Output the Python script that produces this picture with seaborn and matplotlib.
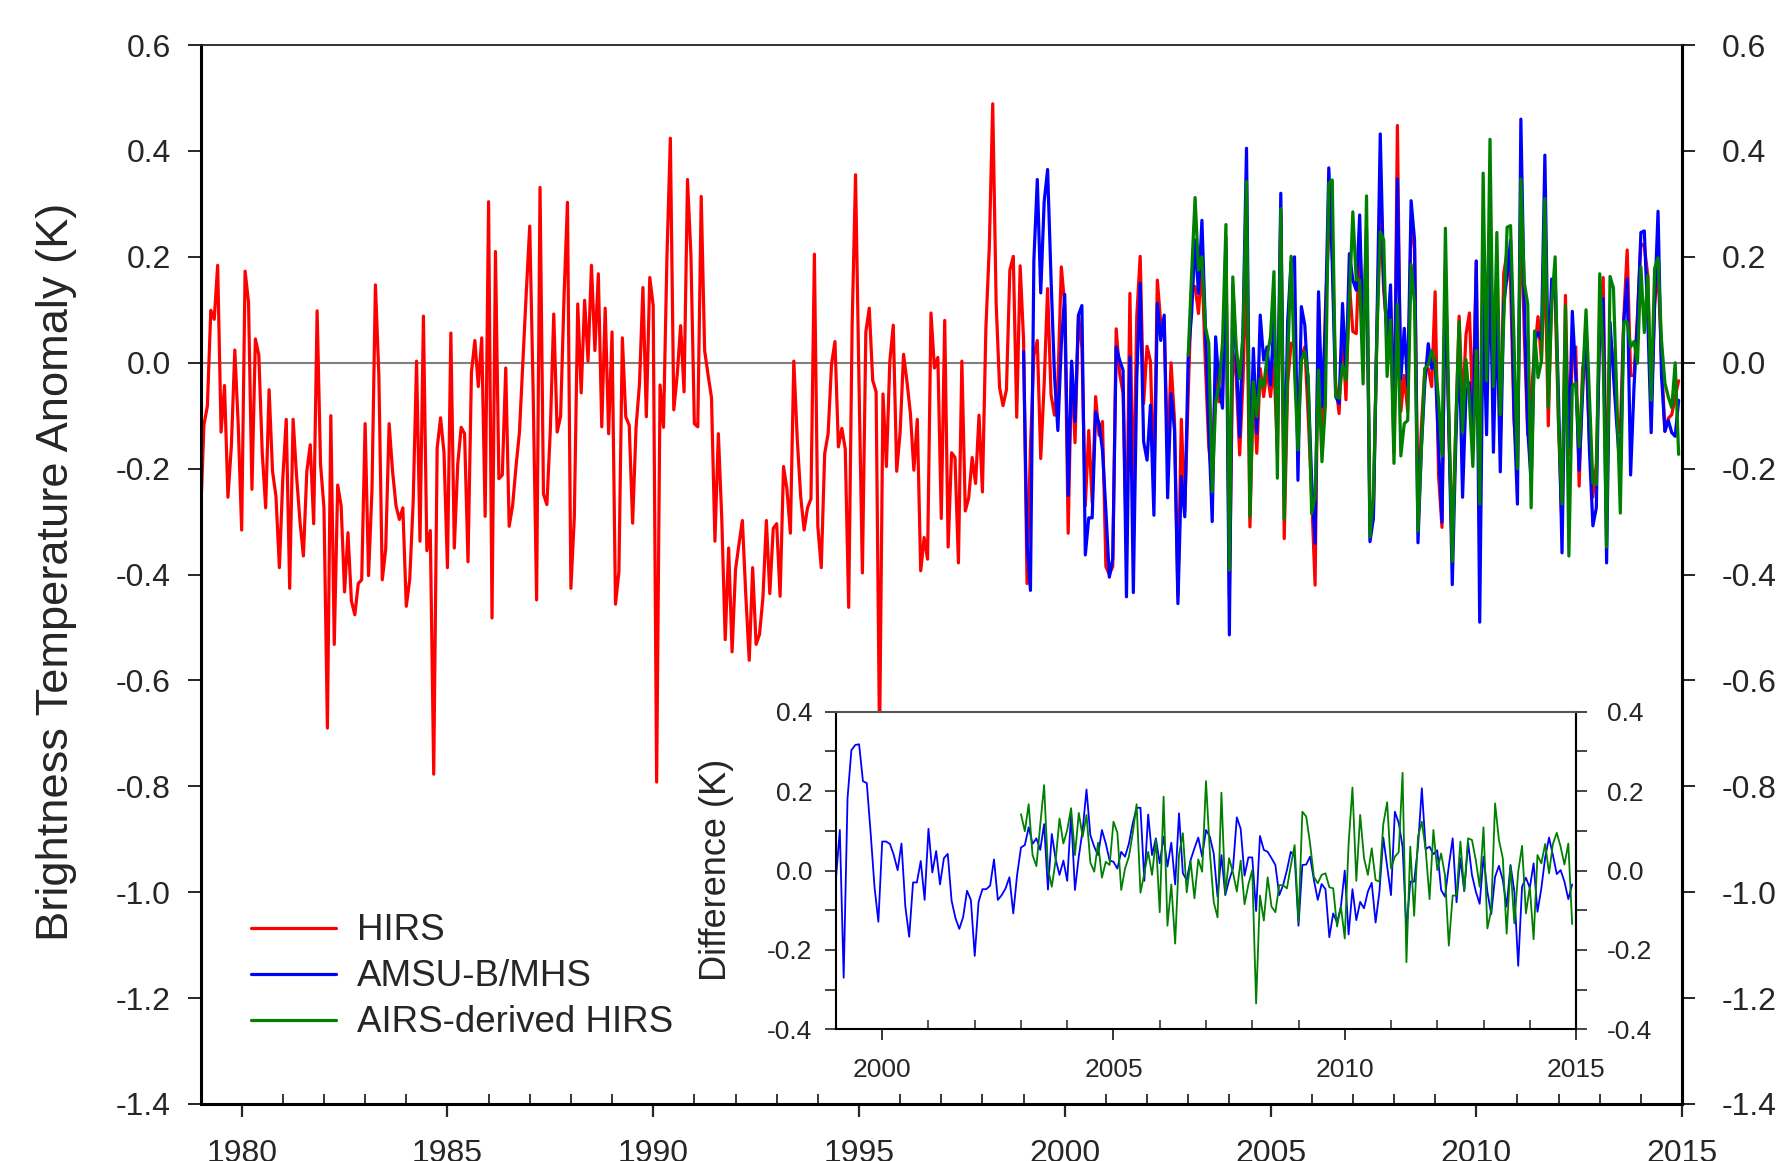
import numpy as np
import pandas as pd
import seaborn as sns
import matplotlib
matplotlib.use("Agg")
import matplotlib.pyplot as plt
from matplotlib.ticker import MultipleLocator

# monthly brightness temperature anomalies (K)
# HIRS: Jan 1979 - Dec 2014
hirs = [
    -0.296, -0.117, -0.082, 0.099, 0.082, 0.184, -0.131, -0.043, -0.254, -0.157,
    0.024, -0.118, -0.316, 0.173, 0.114, -0.239, 0.045, 0.015, -0.170, -0.274,
    -0.051, -0.205, -0.252, -0.387, -0.218, -0.107, -0.426, -0.107, -0.213, -0.300,
    -0.365, -0.205, -0.155, -0.304, 0.098, -0.192, -0.274, -0.690, -0.100, -0.532,
    -0.231, -0.270, -0.433, -0.321, -0.450, -0.476, -0.417, -0.410, -0.115, -0.402,
    -0.240, 0.147, -0.023, -0.410, -0.352, -0.115, -0.205, -0.270, -0.296, -0.274,
    -0.460, -0.410, -0.265, 0.003, -0.337, 0.088, -0.355, -0.317, -0.777, -0.161,
    -0.104, -0.170, -0.387, 0.056, -0.350, -0.192, -0.122, -0.134, -0.376, -0.018,
    0.042, -0.045, 0.047, -0.290, 0.304, -0.482, 0.210, -0.219, -0.212, -0.010,
    -0.309, -0.270, -0.196, -0.131, 0.003, 0.134, 0.258, -0.057, -0.448, 0.331,
    -0.248, -0.268, -0.127, 0.092, -0.131, -0.101, 0.125, 0.303, -0.426, -0.291,
    0.111, -0.057, 0.118, 0.003, 0.184, 0.023, 0.168, -0.121, 0.103, -0.134,
    0.058, -0.456, -0.395, 0.047, -0.102, -0.118, -0.303, -0.122, -0.040, 0.142,
    -0.102, 0.161, 0.108, -0.792, -0.042, -0.122, 0.199, 0.424, -0.089, -0.023,
    0.070, -0.055, 0.346, 0.203, -0.115, -0.121, 0.314, 0.023, -0.023, -0.066,
    -0.337, -0.134, -0.296, -0.523, -0.350, -0.546, -0.391, -0.343, -0.298, -0.439,
    -0.562, -0.387, -0.532, -0.513, -0.443, -0.298, -0.436, -0.313, -0.304, -0.441,
    -0.196, -0.239, -0.322, 0.003, -0.144, -0.252, -0.316,
    -0.274, -0.257, 0.205, -0.309, -0.387, -0.172, -0.134, -0.003, 0.040, -0.159,
    -0.124, -0.163, -0.462, 0.069, 0.355, -0.036, -0.397, 0.058, 0.103, -0.033,
    -0.055, -0.720, -0.059, -0.196, 0.003, 0.071, -0.205, -0.131, 0.016, -0.036,
    -0.096, -0.203, -0.107, -0.393, -0.330, -0.371, 0.094, -0.010, 0.010, -0.294,
    0.080, -0.348, -0.170, -0.179, -0.378, 0.003, -0.280, -0.255, -0.179, -0.228,
    -0.099, -0.244, 0.064, 0.218, 0.489, 0.112, -0.047, -0.081, -0.051, 0.175,
    0.201, -0.103, 0.183, 0.042, -0.417, -0.160, 0.014, 0.042, -0.181, -0.040,
    0.140, -0.060, -0.099, -0.040, 0.181, 0.108, -0.322, -0.005, -0.151, 0.090,
    0.029, -0.270, -0.128, -0.264,
    -0.064, -0.137, -0.111, -0.385, -0.400, -0.385, 0.064, -0.020, -0.058, -0.350,
    0.131, -0.290, 0.087, 0.201, -0.077, 0.031, 0.002, -0.240, 0.156, 0.074,
    0.074, -0.180, 0.000, -0.108, -0.440, -0.107, -0.280, -0.060, 0.144, 0.144,
    0.093, 0.188, -0.001, -0.159, -0.222, 0.000, -0.074, -0.064, 0.238, -0.440,
    0.020, -0.026, -0.174, -0.030,
    0.200, -0.310, -0.039, -0.171, -0.011, -0.064, -0.014, -0.064, -0.001, -0.170,
    0.282, -0.332, -0.039, 0.037, 0.030, -0.127, 0.011, 0.030, -0.102, -0.253,
    -0.420, 0.120, -0.150, 0.100, 0.250, 0.220, -0.040, -0.096, 0.062, -0.070,
    0.150, 0.059, 0.055, 0.230, 0.080, 0.200, -0.280, -0.285, 0.050, 0.298,
    0.137, 0.060, 0.112, -0.170,
    0.448, -0.092, -0.024, -0.092, 0.270, 0.215, -0.280, -0.120, -0.011, -0.011,
    -0.045, 0.134, -0.213, -0.311, 0.178, -0.125, -0.340, -0.125, 0.088, -0.090,
    0.053, 0.094, -0.092, 0.192, -0.330, 0.151, -0.038, 0.270, -0.092, 0.170,
    -0.150, 0.168, 0.210, 0.150, -0.110, -0.200, 0.313, 0.050, -0.136, -0.060,
    0.020, 0.087, 0.003, 0.200, -0.119, 0.144, 0.120, -0.120, -0.310, 0.127,
    -0.173, 0.009, 0.030, -0.233, -0.010, 0.020, -0.150, -0.254, -0.190, 0.060,
    0.161, -0.260, 0.050, 0.000, -0.100, -0.132, 0.084, 0.213, -0.024, -0.024,
    0.090, 0.225, 0.220, 0.165, -0.090, 0.111, 0.178, 0.009, -0.130, -0.105,
    -0.098, -0.065, -0.034,
]

# AMSU-B/MHS: Jan 1999 - Dec 2014
amsu = [
    0.021, -0.343, -0.430, 0.194, 0.346, 0.132, 0.304, 0.365, 0.160, -0.023,
    -0.128, 0.034, 0.129, -0.251, 0.003, -0.111, 0.090, 0.108, -0.363, -0.293,
    -0.293,
    -0.093, -0.115, -0.165, -0.280, -0.405, -0.370, 0.030, 0.005, -0.014, -0.442,
    0.011, -0.434, -0.030, 0.150, -0.149, -0.184, -0.080, -0.288, 0.112, 0.042,
    0.090, -0.255, -0.058, -0.127, -0.455, -0.215, -0.291, 0.011, 0.093, 0.232,
    0.131, 0.269, 0.074, -0.127, -0.300, 0.049, -0.045, -0.086, 0.219, -0.514,
    0.147, 0.011, -0.140, 0.070,
    0.405, -0.220, 0.027, -0.133, 0.090, 0.005, 0.030, -0.042, 0.081, -0.123,
    0.320, -0.253, 0.077, 0.191, 0.200, -0.222, 0.106, 0.071, -0.045, -0.222,
    -0.341, 0.134, -0.083, 0.070, 0.368, 0.188, -0.064, -0.077, 0.112, -0.026,
    0.206, 0.156, 0.137, 0.279, 0.030, 0.251, -0.338, -0.294, 0.060, 0.432,
    0.156, 0.049, 0.147, -0.140,
    0.347, -0.031, 0.065, -0.045, 0.306, 0.232, -0.340, -0.160, -0.038, 0.036,
    -0.011, 0.003, -0.159, -0.301, 0.178, -0.125, -0.419, -0.159, 0.043, -0.254,
    -0.058, -0.038, -0.159, 0.192, -0.490, 0.110, -0.136, 0.205, -0.169, 0.110,
    -0.206, 0.110, 0.165, 0.232, -0.092, -0.267, 0.460, 0.110, -0.125, -0.227,
    0.043, 0.057, 0.043, 0.392, -0.024, 0.158, 0.158, -0.070, -0.359, 0.043,
    -0.159, 0.097, -0.024, -0.203, -0.058, 0.077, -0.166, -0.308, -0.274, 0.090,
    0.121, -0.378, 0.077, -0.024, -0.120, -0.210, 0.077, 0.158, -0.212, -0.045,
    0.077, 0.246, 0.249, 0.084, -0.132, 0.110, 0.286, -0.024, -0.129, -0.109,
    -0.132, -0.139, -0.071,
]

# AIRS-derived HIRS: Jan 2003 - Dec 2014
airs = [
    0.014, 0.169, 0.312, 0.175, 0.200, 0.068, 0.037, -0.244, -0.077, -0.039,
    0.037, 0.261, -0.392, 0.162, 0.030, -0.030, 0.055,
    0.342, -0.291, -0.036, -0.102, -0.030, -0.045, 0.011, 0.049, 0.172, -0.218,
    0.291, -0.296, -0.001, 0.201, -0.014, -0.165, 0.005, 0.021, -0.026, -0.285,
    -0.253, -0.014, -0.187, -0.080, 0.339, 0.345, -0.064, -0.067, -0.004, -0.033,
    0.118, 0.285, 0.156, 0.156, -0.040, 0.315, -0.329, -0.253, 0.045, 0.247,
    0.232, -0.026, 0.081, -0.190,
    0.111, -0.176, -0.115, -0.109, 0.186, 0.111, -0.318, -0.160, -0.011, -0.004,
    0.023, 0.003, -0.071, -0.176, 0.254, -0.092, -0.375, -0.125, 0.078, -0.132,
    0.006, -0.071, -0.196, 0.023, -0.267, 0.358, -0.034, 0.422, -0.045, 0.246,
    -0.098, 0.077, 0.256, 0.259, 0.043, -0.200, 0.347, 0.151, 0.111, -0.274,
    0.060, -0.028, 0.003, 0.310, -0.085, 0.111, 0.200, -0.120, -0.267, 0.107,
    -0.365, -0.045, -0.038, -0.159, -0.034, 0.100, -0.065, -0.227, -0.230, 0.168,
    0.009, -0.348, 0.163, 0.141, -0.070, -0.284, 0.077, 0.077, 0.030, 0.040,
    -0.001, 0.181, 0.057, 0.165, -0.071, 0.178, 0.198, 0.043, -0.038, -0.065,
    -0.085, 0.000, -0.173,
]

# inset: difference from HIRS (K)
diff_amsu = [
    -0.020, 0.102, -0.270, 0.182, 0.303, 0.316, 0.318, 0.225, 0.220, 0.094,
    -0.041, -0.129, 0.073, 0.073, 0.067, 0.039, 0.001, 0.068, -0.091, -0.167,
    -0.030, -0.030, 0.024, -0.074, 0.105, -0.005, 0.049, -0.035, 0.031, 0.042,
    -0.076, -0.120, -0.147, -0.117, -0.051, -0.074, -0.215, -0.079, -0.047, -0.047,
    -0.038, 0.028, -0.074, -0.062, -0.045, -0.017, -0.108, -0.011, 0.058, 0.064,
    0.109, 0.067, 0.081, 0.052, 0.117, -0.048, 0.092, 0.028, -0.011, 0.025,
    -0.026, 0.142, -0.049, 0.035, 0.102, 0.204, 0.089, 0.060, 0.039, 0.102,
    0.068, 0.025, 0.022, 0.005, 0.047, 0.035, 0.068, 0.119, 0.158, 0.158,
    -0.026, 0.141,
    0.039, 0.081, 0.018, 0.085, 0.010, 0.070, -0.035, 0.144, -0.007, -0.024,
    0.026, 0.056, 0.083, 0.035, 0.102, 0.085, 0.043, -0.066, 0.039, -0.062,
    -0.024, 0.005, 0.134, 0.105, -0.013, 0.033, 0.033, -0.102, 0.087, 0.052,
    0.047, 0.031, 0.014, -0.062, -0.037, 0.001, 0.047, 0.035, -0.139, 0.014,
    0.015, 0.035, -0.024, -0.074, -0.034, -0.047, -0.168, -0.108, -0.131, -0.091,
    0.000, -0.161, -0.047, -0.125, -0.079, -0.095, -0.053, -0.031, -0.131, -0.053,
    0.083, 0.010, -0.062, 0.148, 0.120, 0.060, -0.150,
    -0.028, -0.028, 0.060, 0.207, 0.054, 0.060, 0.041, 0.051, -0.049, -0.066,
    0.012, 0.081, -0.080, 0.031, -0.052, 0.070, -0.011, -0.053, -0.084, 0.035,
    -0.053, -0.110, -0.016, 0.012, -0.024, -0.091, 0.014, -0.053, -0.240, -0.041,
    -0.018, -0.044, 0.018, -0.104, -0.045, 0.033, 0.083, 0.039, -0.009, 0.001,
    -0.028, -0.072, -0.035,
]

diff_airs = [
    0.142, 0.099, 0.167, 0.039, 0.011, 0.115, 0.215, 0.005, -0.041, 0.026,
    0.131, 0.068, 0.102, 0.157, 0.039, 0.145, 0.085, 0.140, 0.020, -0.003,
    0.070, -0.018, 0.022, 0.014, 0.123, 0.096, -0.049, 0.005, 0.035, 0.094,
    0.167, -0.056, -0.007, 0.047,
    -0.011, 0.077, -0.105, 0.186, -0.139, -0.035, -0.184, 0.039, 0.094, -0.055,
    0.024, -0.070, 0.028, -0.003, 0.225, 0.047, -0.079, -0.118, 0.196, -0.058,
    0.031, -0.005, -0.053, 0.025, -0.085, -0.035, 0.001, -0.335, -0.063, -0.126,
    -0.017, -0.091, -0.105, -0.037, -0.037, -0.045, 0.012, 0.064, -0.130, 0.148,
    0.136, 0.068, -0.016, -0.032, -0.011, -0.007, -0.042, -0.045, -0.141, -0.091,
    -0.171, 0.068, 0.209, -0.026, 0.140, 0.031, -0.011, 0.056, -0.024, -0.028,
    0.117, 0.172, 0.005, 0.035, 0.046, 0.246, -0.231,
    0.060, -0.114, 0.085, 0.123, 0.052, -0.072, 0.102, 0.001, 0.043, -0.011,
    -0.189, -0.063, -0.063, 0.073, -0.051, 0.081, 0.077, 0.026, -0.041, 0.109,
    -0.146, -0.100, 0.169, 0.077, 0.031, -0.159, 0.012, -0.133, -0.003, 0.062,
    -0.108, -0.041, -0.173, 0.039, 0.018, 0.067, -0.007, 0.067, 0.095, 0.060,
    0.015, 0.068, -0.135,
]

main_yticks = [-1.4, -1.2, -1.0, -0.8, -0.6, -0.4, -0.2, 0.0, 0.2, 0.4, 0.6]
main_xticks = [1980, 1985, 1990, 1995, 2000, 2005, 2010, 2015]
inset_yticks = [-0.4, -0.2, 0.0, 0.2, 0.4]
inset_xticks = [2000, 2005, 2010, 2015]


def monthly(start_year, values):
    # decimal year of each monthly value
    return pd.DataFrame({"year": start_year + np.arange(len(values)) / 12.0,
                         "value": values})


df_hirs = monthly(1979, hirs)
df_amsu = monthly(1999, amsu)
df_airs = monthly(2003, airs)
df_damsu = monthly(1999, diff_amsu)
df_dairs = monthly(2003, diff_airs)

sns.set_theme(style="ticks")
plt.rcParams["font.family"] = ["Liberation Sans", "DejaVu Sans"]

RED, BLUE, GREEN = "#ff0000", "#0000ff", "#008000"

fig = plt.figure(figsize=(17.76, 11.61), dpi=100)
ax = fig.add_axes([0.1129, 0.0491, 0.8342, 0.9121])

ax.axhline(0, color="#808080", lw=1.5, zorder=1)
sns.lineplot(data=df_hirs, x="year", y="value", ax=ax, color=RED, lw=2.3,
             label="HIRS", zorder=2)
sns.lineplot(data=df_amsu, x="year", y="value", ax=ax, color=BLUE, lw=2.3,
             label="AMSU-B/MHS", zorder=3)
sns.lineplot(data=df_airs, x="year", y="value", ax=ax, color=GREEN, lw=2.3,
             label="AIRS-derived HIRS", zorder=4)

ax.set_xlim(1979, 2015)
ax.set_ylim(-1.4, 0.6)
ax.set_xticks(main_xticks)
ax.xaxis.set_minor_locator(MultipleLocator(1))
ax.set_yticks(main_yticks)
ax.set_yticklabels([f"{v:.1f}" for v in main_yticks])
ax.set_xlabel("")
ax.set_ylabel("")
ax.tick_params(axis="x", which="major", direction="out", length=9.5, width=1.6,
               labelsize=23, pad=16, top=False)
ax.tick_params(axis="x", which="minor", direction="in", length=7, width=1.3,
               top=False)
ax.tick_params(axis="y", which="major", direction="out", length=9.5, width=1.4,
               labelsize=23, pad=12, left=True, right=False)

axr = ax.secondary_yaxis("right")
axr.set_yticks(main_yticks)
axr.set_yticklabels([f"{v:.1f}" for v in main_yticks])
axr.tick_params(axis="y", which="major", direction="out", length=9.5, width=1.4,
                labelsize=23, pad=19)
axr.spines["right"].set_linewidth(2.2)
axr.spines["right"].set_color("black")

for side in ["left", "bottom", "right"]:
    ax.spines[side].set_linewidth(2.2)
    ax.spines[side].set_color("black")
ax.spines["top"].set_linewidth(1.3)
ax.spines["top"].set_color("#222222")

fig.text(0.032, 0.507, "Brightness Temperature Anomaly (K)", rotation=90,
         fontsize=32.6, ha="center", va="center")

ax.legend(loc="upper left", bbox_to_anchor=(0.034, 0.18), frameon=False,
          fontsize=26.5, handlelength=2.3, handletextpad=0.58, labelspacing=0.3,
          borderpad=0, borderaxespad=0)

# inset with the differences
ax2 = fig.add_axes([0.4707, 0.1134, 0.4167, 0.2736], zorder=5)
ax2.set_facecolor("white")
sns.lineplot(data=df_damsu, x="year", y="value", ax=ax2, color=BLUE, lw=1.3)
sns.lineplot(data=df_dairs, x="year", y="value", ax=ax2, color=GREEN, lw=1.3)
ax2.set_xlim(1999, 2015)
ax2.set_ylim(-0.4, 0.4)
ax2.set_xticks(inset_xticks)
ax2.xaxis.set_minor_locator(MultipleLocator(1))
ax2.set_yticks(inset_yticks)
ax2.set_yticklabels([f"{v:.1f}" for v in inset_yticks])
ax2.yaxis.set_minor_locator(MultipleLocator(0.1))
ax2.set_xlabel("")
ax2.set_ylabel("")
ax2.tick_params(axis="x", which="major", direction="out", length=8, width=1.3,
                labelsize=19, pad=12.5, top=False)
ax2.tick_params(axis="x", which="minor", direction="in", length=6.5, width=1.1,
                top=False)
ax2.tick_params(axis="y", which="both", direction="out", length=8, width=1.2,
                labelsize=19, pad=9, right=False)

ax2r = ax2.secondary_yaxis("right")
ax2r.set_yticks(inset_yticks)
ax2r.set_yticklabels([f"{v:.1f}" for v in inset_yticks])
ax2r.yaxis.set_minor_locator(MultipleLocator(0.1))
ax2r.tick_params(axis="y", which="both", direction="out", length=8, width=1.2,
                 labelsize=19, pad=14)
ax2r.spines["right"].set_linewidth(1.5)

for side in ["left", "bottom", "right"]:
    ax2.spines[side].set_linewidth(1.5)
    ax2.spines[side].set_color("black")
ax2.spines["top"].set_linewidth(1.5)
ax2.spines["top"].set_color("#555555")

fig.text(716 / 1776, 1 - 870 / 1161, "Difference (K)", rotation=90,
         fontsize=26, ha="center", va="center")

fig.savefig("out.png", dpi=100)
